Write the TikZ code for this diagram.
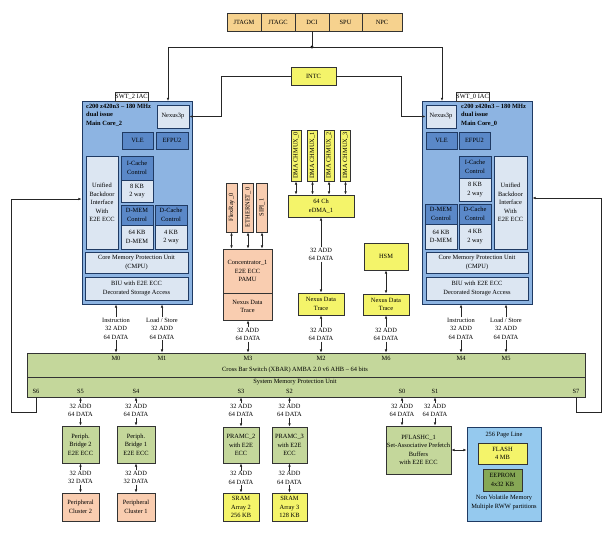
\documentclass[tikz,border=0pt]{standalone}
\usepackage{fontspec}
\setmainfont{Liberation Serif}
\usetikzlibrary{arrows.meta}
\definecolor{coreblue}{HTML}{8DB4E2}
\definecolor{navy}{HTML}{1F3A63}
\definecolor{midblue}{HTML}{5A88C8}
\definecolor{paleblue}{HTML}{DCE6F2}
\definecolor{jtagtan}{HTML}{F6D28E}
\definecolor{yelfill}{HTML}{F4F46A}
\definecolor{peachfill}{HTML}{F9CDB0}
\definecolor{grnfill}{HTML}{C4D79B}
\definecolor{dgrnfill}{HTML}{86A855}
\definecolor{nvmblue}{HTML}{95C9EE}
\definecolor{edgegray}{HTML}{333333}
\newcommand\myfs{\fontsize{6.4}{8.5}\selectfont}
\newcommand\rbox[7][]{\node[rb,#1,minimum width={(#5-#3)*1pt},minimum height={(#6-#4)*1pt}] (#2) at ({(#3+#5)/2},{(#4+#6)/2}) {#7};}
\tikzset{
  rb/.style={draw=edgegray,line width=0.75pt,inner sep=0pt,align=center,font=\myfs,text=black},
  jt/.style={fill=jtagtan},
  yb/.style={fill=yelfill},
  pb/.style={fill=peachfill},
  gb/.style={fill=grnfill},
  corebox/.style={fill=coreblue,draw=navy,line width=0.9pt},
  dkb/.style={fill=midblue,draw=navy,line width=0.8pt},
  ltb/.style={fill=paleblue,draw=navy,line width=0.8pt},
  lbl/.style={font=\myfs,align=center,inner sep=0.6pt},
  ttl/.style={font=\myfs\bfseries,align=left,inner sep=0pt,anchor=north west},
  arr/.style={-{Latex[length=3.2pt,width=2.6pt]},line width=0.6pt,draw=black!85},
  darr/.style={{Latex[length=3.2pt,width=2.6pt]}-{Latex[length=3.2pt,width=2.6pt]},line width=0.6pt,draw=black!85},
  ln/.style={line width=0.6pt,draw=black!85},
}
\begin{document}
\begin{tikzpicture}[x=1pt,y=-1pt]
\path[fill=white] (0,0) rectangle (609,543);
\useasboundingbox (0,0) rectangle (609,543);

% JTAG strip
\rbox[jt]{jtagm}{227}{13}{261}{31}{JTAGM}
\rbox[jt]{jtagc}{261}{13}{295}{31}{JTAGC}
\rbox[jt]{dci}{295}{13}{329}{31}{DCI}
\rbox[jt]{spu}{329}{13}{362}{31}{SPU}
\rbox[jt]{npc}{362}{13}{402}{31}{NPC}

% INTC
\rbox[yb]{intc}{291}{67}{336}{85}{INTC}

% Core 2
\rbox[corebox]{core2}{82}{101}{192}{304}{}
\rbox[fill=white]{swt2}{115}{92}{148}{101}{SWT\_2 IAC}
\node[ttl] (t2) at (86,104) {c200 z420n3 – 180 MHz\\dual issue\\Main Core\_2};
\rbox[ltb]{nex2}{157}{105}{189}{128}{Nexus3p}
\rbox[dkb]{vle2}{122}{132}{153}{149}{VLE}
\rbox[dkb]{efpu2}{156}{132}{188}{149}{EFPU2}
\rbox[ltb]{ubi2}{86}{156}{118}{249}{Unified\\Backdoor\\Interface\\With\\E2E ECC}
\rbox[dkb]{icc2}{121}{156}{153}{180}{I-Cache\\Control}
\rbox[ltb]{ick2}{121}{180}{153}{202}{8 KB\\2 way}
\rbox[dkb]{dmc2}{121}{205}{153}{225}{D-MEM\\Control}
\rbox[ltb]{dmk2}{121}{225}{153}{249}{64 KB\\D-MEM}
\rbox[dkb]{dcc2}{155}{205}{187}{225}{D-Cache\\Control}
\rbox[ltb]{dck2}{155}{225}{187}{249}{4 KB\\2 way}
\rbox[ltb]{cmpu2}{85}{252}{188}{273}{Core Memory Protection Unit\\(CMPU)}
\rbox[ltb]{biu2}{85}{277}{188}{300}{BIU with E2E ECC\\Decorated Storage Access}

% Core 0
\rbox[corebox]{core0}{422}{101}{532}{304}{}
\rbox[fill=white]{swt0}{456}{92}{489}{101}{SWT\_0 IAC}
\node[ttl] (t0) at (461,104) {c200 z420n3 – 180 MHz\\dual issue\\Main Core\_0};
\rbox[ltb]{nex0}{426}{105}{456}{128}{Nexus3p}
\rbox[dkb]{vle0}{426}{132}{457}{149}{VLE}
\rbox[dkb]{efpu0}{459}{132}{490}{149}{EFPU2}
\rbox[dkb]{icc0}{459}{156}{491}{178}{I-Cache\\Control}
\rbox[ltb]{ick0}{459}{178}{491}{201}{8 KB\\2 way}
\rbox[ltb]{ubi0}{494}{156}{527}{249}{Unified\\Backdoor\\Interface\\With\\E2E ECC}
\rbox[dkb]{dmc0}{425}{204}{457}{224}{D-MEM\\Control}
\rbox[ltb]{dmk0}{425}{224}{457}{249}{64 KB\\D-MEM}
\rbox[dkb]{dcc0}{459}{204}{491}{224}{D-Cache\\Control}
\rbox[ltb]{dck0}{459}{224}{491}{249}{4 KB\\2 way}
\rbox[ltb]{cmpu0}{426}{252}{528}{273}{Core Memory Protection Unit\\(CMPU)}
\rbox[ltb]{biu0}{426}{277}{528}{300}{BIU with E2E ECC\\Decorated Storage Access}

% top connections
\node[circle,fill=black,inner sep=0pt,minimum size=3.2pt] (dot) at (312,47) {};
\coordinate (c2in) at (168,101);
\coordinate (c0in) at (442,101);
\draw[ln] (dci.south) -- (dot.center);
\draw[arr] (dot.center) -| (c2in);
\draw[arr] (dot.center) -| (c0in);
\coordinate (ik2) at (221,76);
\coordinate (ik0) at (401,76);
\draw[arr] (intc.west) -- (ik2) |- (nex2.east);
\draw[arr] (intc.east) -- (ik0) |- (nex0.west);

% Concentrator group
\node[rb,pb,rotate=90,minimum width=49pt,minimum height=11pt] (flex) at (231.5,207.5) {FlexRay\_0};
\node[rb,pb,rotate=90,minimum width=49pt,minimum height=11pt] (eth) at (248,207.5) {ETHERNET\_0};
\node[rb,pb,rotate=90,minimum width=49pt,minimum height=11pt] (sipi) at (262,207.5) {SIPI\_1};
\rbox[pb]{conc}{223}{249}{272}{293}{Concentrator\_1\\E2E ECC\\PAMU}
\rbox[pb]{conct}{223}{293}{272}{320}{Nexus Data\\Trace}
\draw[darr] (flex.west) -- (flex.west |- conc.north);
\draw[darr] (eth.west) -- (eth.west |- conc.north);
\draw[darr] (sipi.west) -- (sipi.west |- conc.north);

% eDMA group
\node[rb,yb,rotate=90,minimum width=51pt,minimum height=10pt] (chm0) at (296,155.5) {DMA CHMUX\_0};
\node[rb,yb,rotate=90,minimum width=51pt,minimum height=10pt] (chm1) at (312.5,155.5) {DMA CHMUX\_1};
\node[rb,yb,rotate=90,minimum width=51pt,minimum height=10pt] (chm2) at (329,155.5) {DMA CHMUX\_2};
\node[rb,yb,rotate=90,minimum width=51pt,minimum height=10pt] (chm3) at (345.5,155.5) {DMA CHMUX\_3};
\rbox[yb]{edma}{288}{195}{354}{217}{64 Ch\\eDMA\_1}
\draw[darr] (chm0.west) -- (chm0.west |- edma.north);
\draw[darr] (chm1.west) -- (chm1.west |- edma.north);
\draw[darr] (chm2.west) -- (chm2.west |- edma.north);
\draw[darr] (chm3.west) -- (chm3.west |- edma.north);
\rbox[yb]{ntr}{298}{293}{344}{315}{Nexus Data\\Trace}
\node[lbl] (ledma) at (321,254.5) {32 ADD\\64 DATA};
\draw[arr] (ledma.north) -- (ledma.north |- edma.south);
\draw[arr] (ledma.south) -- (ledma.south |- ntr.north);

% HSM
\rbox[yb]{hsm}{364}{243}{408}{270}{HSM}
\rbox[yb]{ntrh}{363}{294}{409}{315}{Nexus Data\\Trace}
\draw[darr] (hsm.south) -- (hsm.south |- ntrh.north);

% XBAR
\rbox[gb]{xbar}{27}{353}{585}{377}{}
\rbox[gb]{smpu}{27}{377}{585}{397}{}
\node[lbl] (xbt) at (295,370) {Cross Bar Switch (XBAR) AMBA 2.0 v6 AHB – 64 bits};
\node[lbl] (smt) at (295,382.5) {System Memory Protection Unit};

\foreach \n/\x in {M0/116,M1/162,M3/248,M2/321,M6/386,M4/461,M5/506}{
  \node[lbl] (m\n) at (\x,358.5) {\n};
}
\foreach \n/\x in {S6/36,S5/80.5,S4/136,S3/241,S2/289.5,S0/402,S1/435,S7/576}{
  \node[lbl] (s\n) at (\x,391) {\n};
}

% master labels
\node[lbl] (li2) at (116,328.5) {Instruction\\32 ADD\\64 DATA};
\node[lbl] (ll2) at (162,328.5) {Load / Store\\32 ADD\\64 DATA};
\node[lbl] (li0) at (461,328.5) {Instruction\\32 ADD\\64 DATA};
\node[lbl] (ll0) at (506,328.5) {Load / Store\\32 ADD\\64 DATA};
\node[lbl] (lm3) at (248,334.5) {32 ADD\\64 DATA};
\node[lbl] (lm2) at (321,334.5) {32 ADD\\64 DATA};
\node[lbl] (lm6) at (386,334.5) {32 ADD\\64 DATA};
\foreach \l/\b in {li2/core2,ll2/core2,li0/core0,ll0/core0,lm3/conct,lm2/ntr,lm6/ntrh}{
  \draw[arr] (\l.north) -- (\l.north |- \b.south);
  \draw[arr] (\l.south) -- (\l.south |- xbar.north);
}

% outer loops
\coordinate (lbot) at (11,412);
\coordinate (ltop) at (11,199);
\draw[arr] (sS6 |- smpu.south) |- (lbot) -- (ltop) -- (ltop -| core2.west);
\coordinate (rbot) at (601,412);
\coordinate (rtop) at (601,198);
\draw[arr] (sS7 |- smpu.south) |- (rbot) -- (rtop) -- (rtop -| core0.east);

% bridges and clusters
\rbox[gb]{br2}{62}{426}{99}{463}{Periph.\\Bridge 2\\E2E ECC}
\rbox[gb]{br1}{117}{426}{155}{463}{Periph.\\Bridge 1\\E2E ECC}
\rbox[pb]{pc2}{62}{493}{99}{521}{Peripheral\\Cluster 2}
\rbox[pb]{pc1}{117}{493}{155}{521}{Peripheral\\Cluster 1}
\rbox[gb]{pr2}{223}{427}{259}{463}{PRAMC\_2\\with E2E\\ECC}
\rbox[gb]{pr3}{272}{427}{307}{463}{PRAMC\_3\\with E2E\\ECC}
\rbox[yb]{sr2}{223}{493}{259}{521}{SRAM\\Array 2\\256 KB}
\rbox[yb]{sr3}{272}{493}{307}{521}{SRAM\\Array 3\\128 KB}
\rbox[gb]{pfl}{386}{426}{451}{474}{PFLASHC\_1\\Set-Associative Prefetch\\Buffers\\with E2E ECC}

\node[lbl] (ls5) at (80.5,410.5) {32 ADD\\64 DATA};
\node[lbl] (ls4) at (136,410.5) {32 ADD\\64 DATA};
\node[lbl] (ls3) at (241,410.5) {32 ADD\\64 DATA};
\node[lbl] (ls2) at (289.5,410.5) {32 ADD\\64 DATA};
\node[lbl] (ls0) at (402,410.5) {32 ADD\\64 DATA};
\node[lbl] (ls1) at (435,410.5) {32 ADD\\64 DATA};
\foreach \l/\b in {ls5/br2,ls4/br1,ls3/pr2,ls2/pr3,ls0/pfl,ls1/pfl}{
  \draw[arr] (\l.north) -- (\l.north |- smpu.south);
  \draw[arr] (\l.south) -- (\l.south |- \b.north);
}
\node[lbl] (lb2) at (80.5,477.5) {32 ADD\\32 DATA};
\node[lbl] (lb1) at (136,477.5) {32 ADD\\32 DATA};
\node[lbl] (lp2) at (241,478) {32 ADD\\64 DATA};
\node[lbl] (lp3) at (289.5,478) {32 ADD\\64 DATA};
\foreach \l/\a/\b in {lb2/br2/pc2,lb1/br1/pc1,lp2/pr2/sr2,lp3/pr3/sr3}{
  \draw[arr] (\l.north) -- (\l.north |- \a.south);
  \draw[arr] (\l.south) -- (\l.south |- \b.north);
}

% NVM
\rbox[fill=nvmblue,draw=navy,line width=0.9pt]{nvm}{467}{427}{541}{521}{}
\node[lbl] (npl) at (504,435) {256 Page Line};
\rbox[yb]{flash}{478}{443}{527}{464}{FLASH\\4 MB}
\rbox[fill=dgrnfill]{eep}{483}{469}{522}{491}{EEPROM\\4x32 KB}
\node[lbl] (nvt) at (504,502.5) {Non Volatile Memory\\Multiple RWW partitions};
\draw[darr] (pfl.east) -- (pfl.east -| nvm.west);
\end{tikzpicture}
\end{document}
